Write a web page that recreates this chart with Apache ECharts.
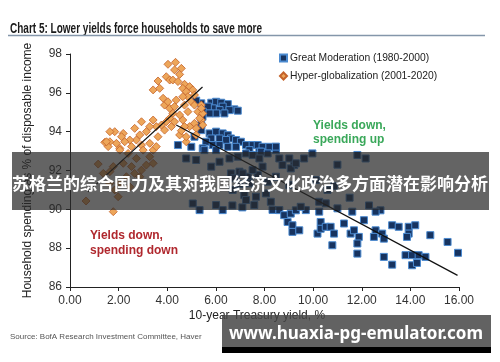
<!DOCTYPE html>
<html><head><meta charset="utf-8">
<script src="https://cdn.jsdelivr.net/npm/echarts@6/dist/echarts.min.js"></script>
<style>html,body{margin:0;padding:0;background:#fff}#c{width:500px;height:362px}</style>
</head><body><div id="c"></div>
<script>
var xTicks = [0, 2, 4, 6, 8, 10, 12, 14, 16];
var yTicks = [86, 88, 90, 92, 94, 96, 98];
var seriesNames = ['Great Moderation (1980-2000)', 'Hyper-globalization (2001-2020)'];

var hyperGlobalization = [
[4.03,97.47],[4.34,97.57],[4.30,97.18],[4.58,97.26],[4.51,96.95],[3.96,96.83],[4.10,96.66],[3.62,96.61],[3.42,96.15],[3.69,96.23],
[4.23,96.66],[4.44,96.58],[4.71,96.44],[4.64,96.23],[4.92,96.32],[4.78,96.06],[5.05,96.15],[4.85,95.80],[5.12,95.89],[4.64,95.80],
[4.99,95.54],[4.71,95.37],[5.12,95.37],[5.40,95.37],[5.26,95.03],[4.85,95.03],[5.40,94.60],[5.12,94.43],[4.92,94.26],[5.19,94.17],
[5.46,94.34],[4.64,94.60],[4.51,94.86],[4.23,94.94],[4.10,95.20],[3.89,95.37],[3.83,95.72],[4.03,95.54],[4.30,95.29],[4.37,95.63],
[4.10,94.69],[3.96,94.51],[3.76,94.34],[3.55,94.26],[3.42,94.60],[3.28,94.26],[3.14,94.00],[2.94,94.51],[2.66,94.17],[2.87,93.83],
[2.73,93.57],[2.46,93.57],[2.19,93.91],[1.84,94.00],[1.64,94.00],[2.12,93.74],[2.25,93.48],[1.91,93.40],[1.64,93.48],[1.43,93.45],
[1.57,93.23],[2.05,93.14],[2.53,93.23],[2.94,93.31],[3.28,93.40],[3.01,93.05],[3.42,93.05],[3.62,93.74],[3.89,94.08],[4.17,94.26],
[4.30,94.51],[4.71,94.26],[4.51,93.83],[4.78,93.48],[5.19,93.83],[5.33,94.69],[5.46,94.94],[5.40,95.20],[4.58,94.05],[4.78,93.74],
[1.16,92.33],[0.66,90.43],[1.78,89.88],[2.05,93.05],[2.39,92.88],[2.73,92.62],[3.28,92.71],[3.42,92.37],[2.94,92.02],[3.14,92.28],
[2.66,91.85],[2.32,91.68],[2.05,91.34],[1.98,90.65],[1.64,91.94],[1.37,91.85],[1.78,92.20],[2.19,92.37],[2.53,92.20],[2.87,91.68],
[1.64,91.34],[1.50,93.48],[3.55,93.23],[2.46,91.16],[1.84,91.00]
];

var greatModeration = [
[5.40,95.46],[5.81,95.49],[6.01,95.54],[6.22,95.49],[6.49,95.42],[6.76,95.15],[6.90,95.08],[6.28,95.29],[6.56,95.11],[6.15,95.11],
[5.87,95.20],[5.67,95.29],[5.46,95.03],[6.01,94.94],[6.35,94.94],[5.74,94.94],[5.40,94.34],[5.40,94.08],[5.12,93.74],[4.99,93.22],
[4.44,93.31],[5.19,95.60],[5.45,94.77],
[5.74,93.91],[6.01,94.00],[6.28,93.91],[6.49,93.82],[6.62,93.65],[6.83,93.57],[7.03,93.48],[7.24,93.31],[7.51,93.31],[7.72,93.31],
[7.92,93.22],[8.20,93.22],[8.47,93.05],[5.81,93.65],[6.15,93.65],[6.42,93.57],[5.60,93.48],[5.87,93.31],[6.15,93.31],[6.49,93.22],
[6.83,93.22],[5.46,93.14],[6.01,93.05],[7.38,93.05],[7.79,92.97],
[4.78,92.62],[5.19,92.54],[5.53,93.05],[5.81,92.20],[6.15,92.45],[6.56,92.62],[6.90,92.71],[7.24,92.88],[7.51,92.80],[7.86,92.97],
[8.13,92.88],[8.47,93.23],[6.62,91.85],[6.97,91.94],[7.31,91.68],[7.72,91.77],[8.13,91.42],[8.47,91.68],[6.69,91.00],[7.17,90.73],
[7.65,90.65],[8.06,90.82],[8.26,90.39],[9.02,91.25],[9.22,92.28],[9.63,92.62],[9.97,92.88],[10.11,91.51],[10.25,90.39],[10.52,90.31],
[10.59,91.00],[5.05,90.30],[5.33,89.96],[6.01,90.22],[6.28,89.96],[6.68,90.20],[7.09,90.10],
[7.79,92.62],[8.61,92.62],[9.02,92.62],[8.74,92.28],[9.08,92.11],[9.29,92.37],[7.92,92.20],[7.51,92.02],[7.10,91.85],[6.76,91.60],
[7.38,91.34],[6.97,91.30],[7.24,90.48],[7.58,90.22],[8.33,89.97],[9.70,89.96],[8.61,89.96],
[11.82,92.80],[12.16,92.62],[11.00,92.30],[10.86,91.20],[11.50,90.60],[12.30,90.20],
[8.81,89.70],[9.08,89.78],[9.29,89.95],[9.49,90.13],[8.95,89.35],[9.15,89.18],[9.15,88.84],[9.43,88.92],[10.18,88.75],[10.31,89.35],
[10.31,89.00],[10.52,89.10],[10.72,89.10],[10.86,88.75],[10.79,88.15],[11.27,89.27],[11.54,88.75],[11.68,88.92],[11.88,88.58],[11.82,88.24],
[11.82,87.72],[12.09,89.44],[12.57,88.92],[12.50,88.58],[12.84,88.75],[12.91,88.49],[12.77,89.95],[12.91,87.55],[13.25,89.18],[13.52,89.10],
[13.93,89.10],[14.20,89.18],[13.93,88.75],[13.86,88.58],[14.82,88.67],[13.25,87.15],[13.80,87.64],[14.07,87.64],[14.34,87.64],[14.62,87.55],
[14.07,87.12],[14.27,87.24],[15.53,88.32],[15.96,87.76],[10.25,89.88],[11.00,90.05],[11.61,89.88],[12.57,89.88]
];

var trendHyper = [[0.74,90.9],[5.45,96.3]];
var trendGreat = [[4.37,94.34],[15.94,86.6]];

var chart = echarts.init(document.getElementById('c'), null, {renderer:'canvas'});
var axisFont = 'Liberation Sans, Arial, sans-serif';
chart.setOption({
  animation: false,
  backgroundColor: '#fff',
  grid: {left: 70, top: 54, width: 389, height: 233, containLabel: false},
  xAxis: {
    type: 'value', min: 0, max: 16, interval: 2,
    axisLine: {show: true, lineStyle: {color: '#222', width: 1}},
    axisTick: {show: true, length: 4, lineStyle: {color: '#222'}},
    splitLine: {show: false},
    axisLabel: {color: '#333', fontSize: 12, fontFamily: axisFont, margin: 8,
      formatter: function (v) { return v.toFixed(2); }}
  },
  yAxis: {
    type: 'value', min: 86, max: 98, interval: 2,
    axisLine: {show: true, lineStyle: {color: '#222', width: 1}},
    axisTick: {show: true, length: 4, lineStyle: {color: '#222'}},
    splitLine: {show: false},
    axisLabel: {color: '#333', fontSize: 12, fontFamily: axisFont, margin: 8},
    name: 'Household spending as % of disposable income',
    nameLocation: 'middle', nameRotate: 90, nameGap: 36,
    nameTextStyle: {color: '#222', fontSize: 12, fontFamily: axisFont}
  },
  legend: {
    data: [
      {name: seriesNames[0], icon: 'rect'},
      {name: seriesNames[1], icon: 'diamond'}
    ],
    orient: 'vertical', left: 279, top: 53, padding: 0, itemWidth: 7, itemHeight: 7, itemGap: 8,
    textStyle: {color: '#222', fontSize: 10.3, fontFamily: axisFont, padding: [0, 0, 0, -2]}
  },
  series: [
    {
      name: seriesNames[0], type: 'scatter', symbol: 'rect', symbolSize: 7,
      data: greatModeration,
      itemStyle: {color: '#17335f', borderColor: '#4b8ad0', borderWidth: 1, opacity: 1}
    },
    {
      name: seriesNames[1], type: 'scatter', symbol: 'diamond', symbolSize: 8,
      data: hyperGlobalization,
      itemStyle: {color: '#eda65a', borderColor: '#c4622a', borderWidth: 0.8, opacity: 1}
    },
    {
      type: 'line', data: trendHyper, symbol: 'none', silent: true, z: 5,
      lineStyle: {color: '#111', width: 1.2}
    },
    {
      type: 'line', data: trendGreat, symbol: 'none', silent: true, z: 5,
      lineStyle: {color: '#111', width: 1.2}
    }
  ],
  graphic: [
    {type: 'text', x: 10, y: 29, scaleX: 0.715, originX: 0, originY: 0, style: {text: 'Chart 5: Lower yields force households to save more',
      verticalAlign: 'middle', font: 'bold 14px "Liberation Sans", Arial, sans-serif', fill: '#1a1a1a'}},
    {type: 'line', shape: {x1: 8, y1: 35.5, x2: 485, y2: 35.5}, style: {stroke: '#8496aa', lineWidth: 1.5}},
    {type: 'text', left: 313, top: 119, style: {text: 'Yields down,\nspending up', lineHeight: 14,
      font: 'bold 12px "Liberation Sans", Arial, sans-serif', fill: '#3aa85a'}},
    {type: 'text', left: 90, top: 228, style: {text: 'Yields down,\nspending down', lineHeight: 15,
      font: 'bold 12px "Liberation Sans", Arial, sans-serif', fill: '#b0282e'}},
    {type: 'text', x: 257, y: 316, style: {text: '10-year Treasury yield, %', align: 'center', verticalAlign: 'middle',
      font: '12px "Liberation Sans", Arial, sans-serif', fill: '#222'}},
    {type: 'text', x: 10, y: 337, style: {text: 'Source: BofA Research Investment Committee, Haver', verticalAlign: 'middle',
      font: '8px "Liberation Sans", Arial, sans-serif', fill: '#555'}},
    {type: 'rect', z: 100, shape: {x: 12, y: 152, width: 477, height: 58}, style: {fill: 'rgba(40,40,40,0.72)'}},
    {type: 'text', z: 101, x: 250, y: 184, style: {text: '苏格兰的综合国力及其对我国经济文化政治多方面潜在影响分析',
      align: 'center', verticalAlign: 'middle', font: 'bold 17px "Noto Sans CJK SC", sans-serif', fill: '#fff'}},
    {type: 'rect', z: 100, shape: {x: 222, y: 315, width: 269, height: 32}, style: {fill: 'rgba(70,70,70,0.85)'}},
    {type: 'rect', z: 100, shape: {x: 222, y: 347, width: 269, height: 6}, style: {fill: '#000'}},
    {type: 'text', z: 101, x: 356, y: 334, style: {text: 'www.huaxia-pg-emulator.com',
      align: 'center', verticalAlign: 'middle', font: 'bold 17px "Noto Sans", "Open Sans", sans-serif', fill: '#fff'}}
  ]
});
</script></body></html>
